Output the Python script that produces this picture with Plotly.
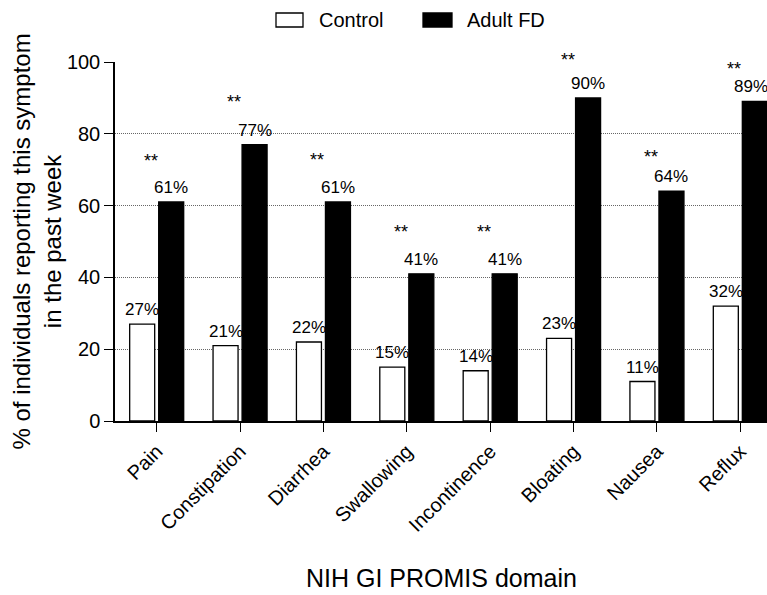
import plotly.graph_objects as go

categories = ["Pain", "Constipation", "Diarrhea", "Swallowing", "Incontinence", "Bloating", "Nausea", "Reflux"]
control = [27, 21, 22, 15, 14, 23, 11, 32]
adult_fd = [61, 77, 61, 41, 41, 90, 64, 89]
significance = ["**", "**", "**", "**", "**", "**", "**", "**"]
series_names = ["Control", "Adult FD"]
y_ticks = [0, 20, 40, 60, 80, 100]

# style / placement constants
W, H = 767, 595
ML, MR, MT, MB = 115, 0, 62, 174
PW, PH = W - ML - MR, H - MT - MB
FONT = "Liberation Sans, Arial, sans-serif"
half_slot = 14.5
star_shift = [41, 43, 42, 42, 42, 38, 34, 32]

fig = go.Figure()
fig.add_trace(go.Bar(x=categories, y=control, name=series_names[0],
                     marker=dict(color="white", line=dict(color="black", width=1.3)),
                     showlegend=False))
fig.add_trace(go.Bar(x=categories, y=adult_fd, name=series_names[1],
                     marker=dict(color="black", line=dict(color="black", width=1.3)),
                     showlegend=False))

ann = []
n = len(categories)
for i, c in enumerate(categories):
    ann.append(dict(x=c, y=control[i], xref="x", yref="y", text=f"{control[i]}%",
                    showarrow=False, xshift=-half_slot, yshift=3, yanchor="bottom",
                    font=dict(size=17, color="black", family=FONT)))
    fd_shift = half_slot if i < n - 1 else half_slot - 4
    ann.append(dict(x=c, y=adult_fd[i], xref="x", yref="y", text=f"{adult_fd[i]}%",
                    showarrow=False, xshift=fd_shift, yshift=3, yanchor="bottom",
                    font=dict(size=17, color="black", family=FONT)))
    ann.append(dict(x=c, y=adult_fd[i], xref="x", yref="y", text=significance[i],
                    showarrow=False, xshift=-6, yshift=star_shift[i], yanchor="middle",
                    font=dict(size=18, color="black", family=FONT)))

def px_x(p):
    return (p - ML) / PW

def px_y(p):
    return (MT + PH - p) / PH

# axis titles
ann.append(dict(xref="paper", yref="paper", x=px_x(36), y=0.5,
                text="% of individuals reporting this symptom<br>in the past week",
                textangle=-90, showarrow=False, xanchor="center", yanchor="middle",
                font=dict(size=24, color="black", family=FONT)))
ann.append(dict(xref="paper", yref="paper", x=px_x(441), y=px_y(578),
                text="NIH GI PROMIS domain", showarrow=False,
                xanchor="center", yanchor="middle",
                font=dict(size=25, color="black", family=FONT)))

# custom legend
shapes = [
    dict(type="rect", xref="paper", yref="paper", x0=px_x(276), x1=px_x(303),
         y0=px_y(27), y1=px_y(13), fillcolor="white", line=dict(color="black", width=1.3)),
    dict(type="rect", xref="paper", yref="paper", x0=px_x(423), x1=px_x(452),
         y0=px_y(27), y1=px_y(13), fillcolor="black", line=dict(color="black", width=1.3)),
]
ann.append(dict(xref="paper", yref="paper", x=px_x(317), y=px_y(20), text=series_names[0],
                showarrow=False, xanchor="left", yanchor="middle",
                font=dict(size=20, color="black", family=FONT)))
ann.append(dict(xref="paper", yref="paper", x=px_x(465), y=px_y(20), text=series_names[1],
                showarrow=False, xanchor="left", yanchor="middle",
                font=dict(size=20, color="black", family=FONT)))

fig.update_layout(
    width=W, height=H,
    margin=dict(l=ML, r=MR, t=MT, b=MB, pad=0),
    paper_bgcolor="white", plot_bgcolor="white",
    barmode="group", bargap=0.304, bargroupgap=0.138,
    annotations=ann, shapes=shapes,
    font=dict(family=FONT, color="black"),
)
fig.update_xaxes(
    range=[-0.5, 7.32], showgrid=False, showline=True, linecolor="black", linewidth=1.5,
    ticks="outside", ticklen=9, tickwidth=1.3, tickcolor="black",
    tickangle=-45, tickfont=dict(size=20, color="black", family=FONT),
    automargin=False, zeroline=False,
)
fig.update_yaxes(
    range=[0, 100], tickvals=y_ticks, showgrid=True, gridcolor="#666", gridwidth=1,
    griddash="1px,1px", showline=True, linecolor="black", linewidth=1.5,
    ticks="outside", ticklen=9, tickwidth=1.3, tickcolor="black",
    tickfont=dict(size=20, color="black", family=FONT),
    automargin=False, zeroline=False,
)
fig.write_html("out.html", config={"displayModeBar": False},
               post_script="document.body.style.margin='0px';")
